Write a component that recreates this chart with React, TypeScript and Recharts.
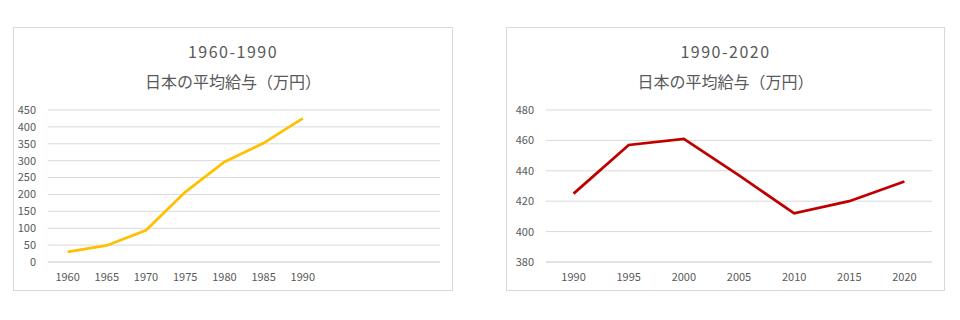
import React from "react";
import { LineChart, Line, XAxis, YAxis, CartesianGrid } from "recharts";

// 1960-1990 (the Excel chart leaves three empty slots on the right)
const earlyYears = ["1960", "1965", "1970", "1975", "1980", "1985", "1990", "", " ", "  "];
const earlySalary = [30, 49, 94, 207, 296, 352, 425, null, null, null];
const earlyTicks = [0, 50, 100, 150, 200, 250, 300, 350, 400, 450];

// 1990-2020
const lateYears = ["1990", "1995", "2000", "2005", "2010", "2015", "2020"];
const lateSalary = [425, 457, 461, 437, 412, 420, 433];
const lateTicks = [380, 400, 420, 440, 460, 480];

const titleSub = "日本の平均給与（万円）";

const FONT = "'Noto Sans CJK JP', 'Noto Sans', sans-serif";
const TEXT = "#595959";
const GRID = "#d9d9d9";

type PanelProps = {
  left: number;
  width: number;
  title: string;
  years: string[];
  values: (number | null)[];
  ticks: number[];
  color: string;
  yWidth: number;
};

const Panel = ({ left, width, title, years, values, ticks, color, yWidth }: PanelProps) => {
  const data = years.map((year, i) => ({ year, value: values[i] }));
  const tickStyle = { fontSize: 11, fill: TEXT, fontFamily: FONT };
  const chartW = width - 2;
  const rightM = 12;
  // half a category slot on each side, like Excel's "between tick marks"
  const halfSlot = (chartW - yWidth - rightM) / (years.length * 2);
  return (
    <div
      style={{
        position: "absolute",
        left,
        top: 19,
        width,
        height: 264,
        border: `1px solid ${GRID}`,
        boxSizing: "border-box",
        background: "#fff",
        fontFamily: FONT,
      }}
    >
      <div
        style={{
          position: "absolute",
          top: 12,
          left: 0,
          width: "100%",
          textAlign: "center",
          fontSize: 16,
          letterSpacing: 1.5,
          color: TEXT,
          lineHeight: "22px",
        }}
      >
        {title}
      </div>
      <div
        style={{
          position: "absolute",
          top: 42,
          left: 0,
          width: "100%",
          textAlign: "center",
          fontSize: 16,
          color: TEXT,
          lineHeight: "22px",
        }}
      >
        {titleSub}
      </div>
      <LineChart
        width={chartW}
        height={262}
        data={data}
        margin={{ top: 82, right: rightM, left: 0, bottom: 0 }}
        style={{ position: "absolute", left: 0, top: 0 }}
      >
        <CartesianGrid stroke={GRID} vertical={false} />
        <XAxis
          dataKey="year"
          axisLine={{ stroke: GRID }}
          tickLine={false}
          tick={tickStyle}
          tickMargin={5}
          height={28}
          interval={0}
          padding={{ left: halfSlot, right: halfSlot }}
        />
        <YAxis
          domain={[ticks[0], ticks[ticks.length - 1]]}
          ticks={ticks}
          axisLine={false}
          tickLine={false}
          tick={tickStyle}
          tickMargin={6}
          width={yWidth}
          interval={0}
        />
        <Line
          type="linear"
          dataKey="value"
          stroke={color}
          strokeWidth={2.75}
          dot={false}
          isAnimationActive={false}
        />
      </LineChart>
    </div>
  );
};

export default function App() {
  return (
    <div style={{ position: "relative", width: 944, height: 304 }}>
      <Panel
        left={5}
        width={440}
        title="1960-1990"
        years={earlyYears}
        values={earlySalary}
        ticks={earlyTicks}
        color="#FFC000"
        yWidth={34}
      />
      <Panel
        left={498}
        width={439}
        title="1990-2020"
        years={lateYears}
        values={lateSalary}
        ticks={lateTicks}
        color="#C00000"
        yWidth={39}
      />
    </div>
  );
}
